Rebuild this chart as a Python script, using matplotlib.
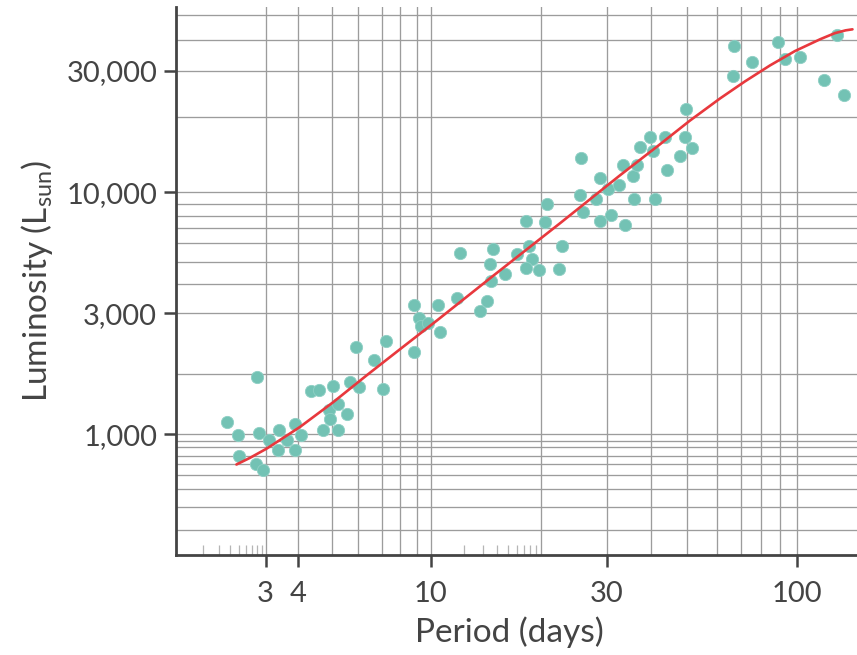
import numpy as np
import matplotlib
matplotlib.use('Agg')
import matplotlib.pyplot as plt
from matplotlib.ticker import FixedLocator, FixedFormatter, NullFormatter

# ---------------- data ----------------
PERIOD = [2.27, 2.46, 2.82, 2.85, 2.48, 2.79, 2.94, 3.1, 3.37, 3.35, 3.63, 3.9, 3.9, 4.08,
          4.35, 4.6, 5.04, 4.9, 4.93, 4.71, 5.21, 5.23, 5.56, 5.66, 6.04, 5.91, 6.64, 7.21,
          7.07, 8.85, 8.85, 9.18, 9.3, 9.82, 10.5, 10.6, 11.8, 12.0, 13.6, 14.2, 14.5, 14.8,
          14.6, 15.9, 17.2, 18.5, 18.9, 18.2, 19.8, 18.2, 20.5, 20.7, 22.8, 22.4, 25.4, 25.9,
          28.1, 28.8, 30.3, 28.8, 30.8, 25.6, 32.4, 33.3, 35.6, 35.7, 36.5, 33.7, 37.3, 39.7,
          40.5, 41.1, 43.7, 44.1, 47.9, 49.3, 51.4, 49.5, 67.0, 66.3, 75.5, 88.8, 92.7, 102,
          119, 129, 135]
LUMINOSITY = [1150, 983, 1930, 1010, 700, 600, 542, 915, 1050, 762, 911, 1120, 762, 983,
              1640, 1660, 1740, 1320, 1190, 1050, 1050, 1410, 1260, 1830, 1720, 2400, 2200,
              2500, 1690, 2310, 3260, 2910, 2760, 2810, 3250, 2650, 3480, 5440, 3080, 3400,
              4900, 5670, 4130, 4450, 5390, 5830, 5160, 4700, 4630, 7580, 7470, 9050, 5830,
              4650, 9770, 8350, 9400, 11400, 10300, 7600, 8080, 13700, 10700, 12900, 11600,
              9400, 12900, 7260, 15200, 16700, 14700, 9450, 16700, 12300, 14000, 16700, 15000,
              21600, 37800, 28800, 32600, 39300, 33400, 34300, 27700, 41700, 24300]
FIT_PERIOD = [2.43, 2.68, 3.03, 3.49, 4.05, 5.06, 6.34, 8.0, 10.4, 14.8, 22.5, 32.7, 42.3,
              50.8, 61.1, 71.9, 84.6, 98.9, 116, 127, 136, 142]
FIT_LUMINOSITY = [598, 674, 779, 939, 1090, 1450, 1970, 2360, 2860, 4350, 7400, 11700,
                  15600, 19400, 23600, 27400, 31600, 36100, 40300, 42500, 43600, 44000]

X_TICKS = [3, 4, 10, 30, 100]
X_TICK_LABELS = ['3', '4', '10', '30', '100']
X_GRID_EXTRA = [5, 6, 7, 8, 9, 20, 40, 50, 60, 70, 80, 90]
Y_TICKS = [1000, 3000, 10000, 30000]
Y_TICK_LABELS = ['1,000', '3,000', '10,000', '30,000']
Y_GRID_EXTRA = [200, 300, 400, 500, 600, 700, 800, 900, 2000, 4000, 5000, 6000, 7000,
                8000, 9000, 20000, 40000, 50000]

# ---------------- axis scales of the reference (log-like, piecewise) ----------------
X_KNOT_VALS = [1.5, 3, 4, 5, 6, 7, 8, 9, 10, 20, 30, 40, 50, 60, 70, 80, 90, 100, 200]
X_KNOT_POS = [169.4, 265.7, 298.3, 331.7, 358.3, 381.7, 400, 416.7, 430.7, 541, 606.7, 651,
              687.3, 717.3, 741, 761, 780, 796.7, 906.9]
Y_KNOT_VALS = [100, 200, 300, 400, 500, 600, 700, 800, 900, 1000, 2000, 3000, 4000, 5000,
               6000, 7000, 8000, 9000, 10000, 20000, 30000, 40000, 50000, 100000]
Y_KNOT_POS = [571.3, 530, 506.7, 489, 475, 464.3, 455.7, 446.7, 440.7, 434.3, 374, 313.3,
              284, 262.3, 242.7, 228.3, 216, 204.3, 192.3, 117.3, 71, 40, 15, -62.7]


def make_funcs(vals, pos):
    lv = np.log10(np.asarray(vals, float))
    p = np.asarray(pos, float)
    s0 = (p[1] - p[0]) / (lv[1] - lv[0])
    s1 = (p[-1] - p[-2]) / (lv[-1] - lv[-2])

    def fwd(x):
        x = np.asarray(x, float)
        l = np.log10(np.clip(x, 1e-300, None))
        out = np.interp(l, lv, p)
        out = np.where(l < lv[0], p[0] + (l - lv[0]) * s0, out)
        out = np.where(l > lv[-1], p[-1] + (l - lv[-1]) * s1, out)
        return out

    def inv(q):
        q = np.asarray(q, float)
        l = np.interp(q, p, lv)
        l = np.where(q < p[0], lv[0] + (q - p[0]) / s0, l)
        l = np.where(q > p[-1], lv[-1] + (q - p[-1]) / s1, l)
        return 10 ** np.clip(l, -300, 300)
    return fwd, inv


fx, ix = make_funcs(X_KNOT_VALS, X_KNOT_POS)
fy, iy = make_funcs(Y_KNOT_VALS, [-p for p in Y_KNOT_POS])

# ---------------- figure ----------------
plt.rcParams['font.family'] = ['Lato', 'DejaVu Sans']
TXT = '#444444'
fig = plt.figure(figsize=(8.57, 6.55), dpi=100)
ax = fig.add_axes([176 / 857, 1 - 555 / 655, 1 - 176 / 857, (555 - 7) / 655])
ax.set_xscale('function', functions=(fx, ix))
ax.set_yscale('function', functions=(fy, iy))
XMIN, XMAX = 1.573, 146.1
YMIN, YMAX = 131.5, 53700
ax.set_xlim(XMIN, XMAX)
ax.set_ylim(YMIN, YMAX)

ax.scatter(PERIOD, LUMINOSITY, s=78, color='#73c2b4', edgecolors='#8fd0c5',
           linewidths=0.6, zorder=3)
ax.plot(FIT_PERIOD, FIT_LUMINOSITY, color='#e8383d', lw=1.9, zorder=4,
        solid_capstyle='round', solid_joinstyle='round')

# ticks & grid
ax.xaxis.set_major_locator(FixedLocator(X_TICKS))
ax.xaxis.set_major_formatter(FixedFormatter(X_TICK_LABELS))
ax.xaxis.set_minor_locator(FixedLocator(X_GRID_EXTRA))
ax.xaxis.set_minor_formatter(NullFormatter())
ax.yaxis.set_major_locator(FixedLocator(Y_TICKS))
ax.yaxis.set_major_formatter(FixedFormatter(Y_TICK_LABELS))
ax.yaxis.set_minor_locator(FixedLocator(Y_GRID_EXTRA))
ax.yaxis.set_minor_formatter(NullFormatter())

ax.set_axisbelow(True)
ax.grid(True, which='both', color='#9c9c9c', lw=0.95)
ax.tick_params(which='minor', length=0)
ax.tick_params(axis='both', which='major', length=8.5, width=1.8, color=TXT,
               labelcolor=TXT, labelsize=21)
ax.tick_params(axis='x', which='major', pad=10)
ax.tick_params(axis='y', which='major', pad=5)

for side in ('top', 'right'):
    ax.spines[side].set_visible(False)
for side in ('left', 'bottom'):
    ax.spines[side].set_color(TXT)
    ax.spines[side].set_linewidth(2.0)

# decorative short ticks along the bottom (log pattern inside two spans)
k = np.arange(2, 10)
spans = [(XMIN, 3), (10, 20)]
for a, b in spans:
    da, db = fx(a), fx(b)
    vals = ix(da + np.log10(k) * (db - da))
    ax.vlines(vals, 0, 0.018, transform=ax.get_xaxis_transform(), colors='#b5b5b5',
              lw=0.9, zorder=2)

ax.set_xlabel('Period (days)', fontsize=24, color=TXT, va='center')
ax.xaxis.set_label_coords(0.49, -0.1405)
ax.set_ylabel(r'Luminosity (L$_{\mathregular{sun}}$)', fontsize=24, color=TXT, va='center')
ax.yaxis.set_label_coords(-0.204, 0.5)

fig.savefig('out.png', dpi=100)
